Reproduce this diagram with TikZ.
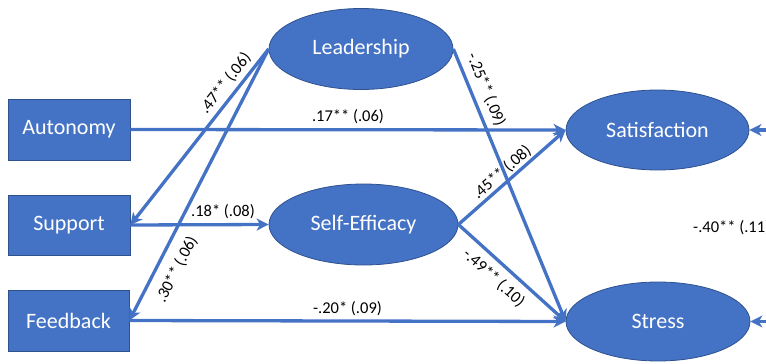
\documentclass[tikz,border=0pt]{standalone}
\usepackage{fontspec}
\setmainfont{Carlito}
\usetikzlibrary{shapes.geometric,arrows.meta}
\definecolor{ofblue}{HTML}{4472C4}
\definecolor{ofedge}{HTML}{2F528F}
\tikzset{
  boxnode/.style={rectangle,fill=ofblue,draw=ofedge,line width=0.8pt,text=white,
    font=\fontsize{22}{26}\selectfont,inner sep=0pt},
  ellnode/.style={ellipse,fill=ofblue,draw=ofedge,line width=0.8pt,text=white,
    font=\fontsize{22}{26}\selectfont,inner sep=0pt},
  path/.style={draw=ofblue,line width=3.3pt,-{Stealth[length=12pt,width=12pt,inset=3.5pt]}},
  lab/.style={font=\fontsize{16.5}{19}\selectfont,text=black,inner sep=0pt}
}
\begin{document}
\begin{tikzpicture}[x=1pt,y=-1pt]
\useasboundingbox (0,0) rectangle (766,364);
\node[boxnode,minimum width=122pt,minimum height=61pt] (auto) at (69,129.5) {Autonomy};
\node[boxnode,minimum width=122pt,minimum height=60pt] (supp) at (69,225) {Support};
\node[boxnode,minimum width=121pt,minimum height=61pt] (feed) at (68.5,320.5) {Feedback};
\node[ellnode,minimum width=184pt,minimum height=81pt] (lead) at (361,49) {Leadership};
\node[ellnode,minimum width=189pt,minimum height=81pt] (se) at (363.5,224.5) {Self-Efficacy};
\node[ellnode,minimum width=183pt,minimum height=80pt] (sat) at (657.5,130) {Satisfaction};
\node[ellnode,minimum width=184pt,minimum height=79pt] (str) at (658,321.5) {Stress};
\coordinate (r1) at (775,130);
\coordinate (r2) at (775,321.5);

\draw[path] (auto.east) -- node[lab,above=4pt,pos=0.5] {.17** (.06)} (sat.west);
\draw[path] (supp.east) -- node[lab,above=4pt,pos=0.67] {.18* (.08)} (se.west);
\draw[path] (feed.east) -- node[lab,above=4pt,pos=0.5] {-.20* (.09)} (str.west);
\draw[path] (lead.west) -- node[lab,sloped,above=4pt,pos=0.24] {.47** (.06)} (supp.east);
\draw[path] (lead.west) -- node[lab,sloped,below=10pt,pos=0.78] {.30** (.06)} (feed.east);
\draw[path] (lead.east) -- node[lab,sloped,above=6pt,pos=0.17] {-.25** (.09)} (str.west);
\draw[path] (se.east) -- node[lab,sloped,above=1.5pt,pos=0.47] {.45** (.08)} (sat.west);
\draw[path] (se.east) -- node[lab,sloped,below=7pt,pos=0.43] {-.49** (.10)} (str.west);
\draw[path] (r1) -- (sat.east);
\draw[path] (r2) -- (str.east);
\node[lab,anchor=west] (corr) at (693,228) {-.40** (.11)};
\end{tikzpicture}
\end{document}
